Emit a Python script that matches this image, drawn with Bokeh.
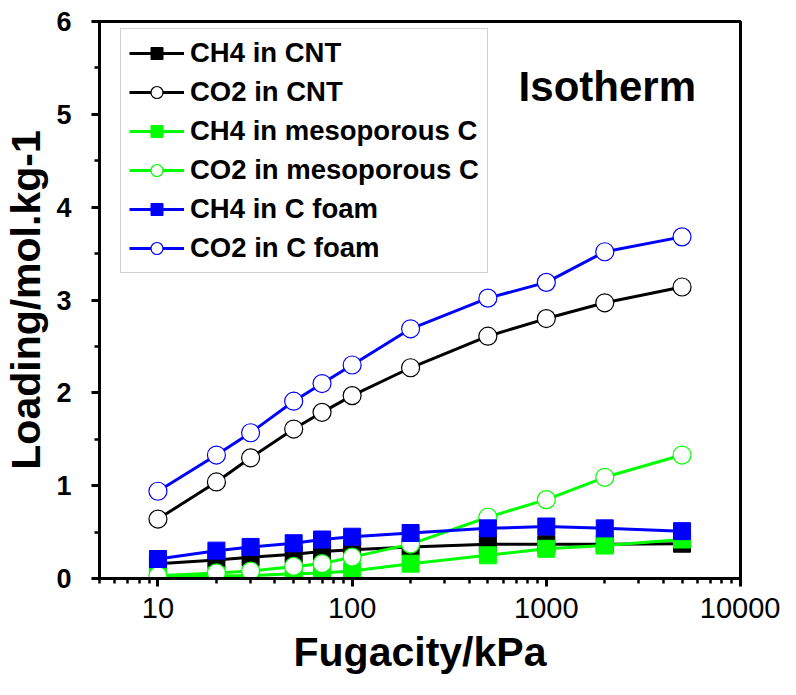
from bokeh.plotting import figure
from bokeh.models import Range1d, FixedTicker, SingleIntervalTicker, Legend, LegendItem, Label
from bokeh.embed import file_html
from bokeh.resources import INLINE

# ---- data ----
fugacity = [10, 20, 30, 50, 70, 100, 200, 500, 1000, 2000, 5000]
ch4_cnt = [0.16, 0.20, 0.23, 0.26, 0.29, 0.31, 0.34, 0.37, 0.37, 0.37, 0.375]
co2_cnt = [0.64, 1.04, 1.30, 1.61, 1.79, 1.97, 2.27, 2.61, 2.80, 2.97, 3.14]
ch4_meso = [0.02, 0.03, 0.03, 0.05, 0.06, 0.08, 0.16, 0.25, 0.32, 0.355, 0.42]
co2_meso = [0.03, 0.06, 0.08, 0.13, 0.16, 0.23, 0.37, 0.66, 0.85, 1.09, 1.33]
ch4_foam = [0.21, 0.30, 0.34, 0.38, 0.42, 0.45, 0.49, 0.54, 0.56, 0.54, 0.51]
co2_foam = [0.94, 1.33, 1.57, 1.91, 2.10, 2.30, 2.69, 3.02, 3.19, 3.52, 3.68]

series_names = ["CH4 in CNT", "CO2 in CNT", "CH4 in mesoporous C",
                "CO2 in mesoporous C", "CH4 in C foam", "CO2 in C foam"]
series_values = [ch4_cnt, co2_cnt, ch4_meso, co2_meso, ch4_foam, co2_foam]
series_colors = ["#000000", "#000000", "#00ff00", "#00ff00", "#0000ff", "#0000ff"]
series_markers = ["square", "circle", "square", "circle", "square", "circle"]

x_major = [10, 100, 1000, 10000]
x_tick_labels = ["10", "100", "1000", "10000"]
y_tick_labels = ["0", "1", "2", "3", "4", "5", "6"]

FONT = "Liberation Sans"

p = figure(width=780, height=679, x_axis_type="log",
           x_range=Range1d(5, 10000), y_range=Range1d(0, 6),
           output_backend="svg", toolbar_location=None,
           min_border_left=98, min_border_right=40,
           min_border_top=21, min_border_bottom=101)
p.xgrid.visible = False
p.ygrid.visible = False
p.background_fill_color = "white"
p.border_fill_color = "white"
p.outline_line_color = "black"
p.outline_line_width = 3

# x axis
minor = [m * d for d in [1, 10, 100, 1000] for m in range(2, 10)]
p.xaxis.ticker = FixedTicker(ticks=x_major, minor_ticks=minor)
p.xaxis.major_label_overrides = {t: l for t, l in zip(x_major, x_tick_labels)}
# y axis
p.yaxis.ticker = SingleIntervalTicker(interval=1, num_minor_ticks=2)
p.yaxis.major_label_overrides = {i: l for i, l in enumerate(y_tick_labels)}

for ax in (p.xaxis, p.yaxis):
    ax.axis_line_width = 3
    ax.major_tick_line_width = 3
    ax.minor_tick_line_width = 2.5
    ax.major_tick_in = 0
    ax.major_tick_out = 8
    ax.minor_tick_in = 0
    ax.minor_tick_out = 5
    ax.axis_label_text_font = FONT
    ax.axis_label_text_font_style = "bold"
    ax.axis_label_text_font_size = "41px"
    ax.axis_label_text_color = "black"
    ax.major_label_text_font = FONT
    ax.major_label_text_color = "black"

p.xaxis.major_label_text_font_size = "29px"
p.xaxis.major_label_text_font_style = "normal"
p.xaxis.major_label_standoff = 11
p.xaxis.axis_label = "Fugacity/kPa"
p.xaxis.axis_label_standoff = 8

p.yaxis.major_label_text_font_size = "27px"
p.yaxis.major_label_text_font_style = "bold"
p.yaxis.major_label_standoff = 20
p.yaxis.axis_label = "Loading/mol.kg-1"
p.yaxis.axis_label_standoff = 4

items = []
for name, vals, col, mk in zip(series_names, series_values, series_colors, series_markers):
    lr = p.line(fugacity, vals, line_color=col, line_width=3)
    if mk == "square":
        sr = p.scatter(fugacity, vals, marker="square", size=17,
                       fill_color=col, line_color=col, line_width=1)
    else:
        sr = p.scatter(fugacity, vals, marker="circle", size=18,
                       fill_color="white", line_color=col, line_width=1.2)
    items.append(LegendItem(label=name, renderers=[lr, sr]))

legend = Legend(items=items, location=(21, 305), orientation="vertical",
                padding=8, spacing=7, margin=0,
                glyph_width=55, glyph_height=30, label_height=30,
                label_standoff=6,
                label_text_font=FONT, label_text_font_style="bold",
                label_text_font_size="27.5px", label_text_color="black",
                border_line_color="#a0a0a0", border_line_width=1.5,
                background_fill_color="white", background_fill_alpha=1)
p.add_layout(legend, "center")

p.add_layout(Label(x=720, y=5.30, text="Isotherm", text_font=FONT,
                   text_font_style="bold", text_font_size="42px",
                   text_baseline="middle", text_color="black"))

open("out.html", "w").write(file_html(p, INLINE))
